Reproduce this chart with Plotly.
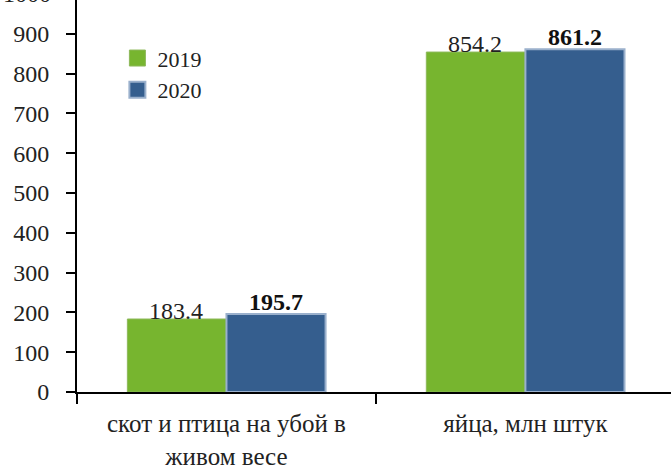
import plotly.graph_objects as go

categories = ["скот и птица на убой в<br>живом весе", "яйца, млн штук"]
series_names = ["2019", "2020"]
values_2019 = [183.4, 854.2]
values_2020 = [195.7, 861.2]
y_ticks = [0, 100, 200, 300, 400, 500, 600, 700, 800, 900]

GREEN = "#77B52F"
BLUE = "#355E8E"
FONT = "'Liberation Serif', 'Times New Roman', 'DejaVu Serif', serif"

fig = go.Figure()
fig.add_trace(go.Bar(x=categories, y=values_2019, name=series_names[0],
                     marker=dict(color=GREEN, line=dict(color="#8DB85A", width=1)),
                     showlegend=False, hoverinfo="skip"))
fig.add_trace(go.Bar(x=categories, y=values_2020, name=series_names[1],
                     marker=dict(color=BLUE, line=dict(color="#9AB0CC", width=2)),
                     showlegend=False, hoverinfo="skip"))
# legend entries
fig.add_trace(go.Scatter(x=[None], y=[None], mode="markers", name=series_names[0],
                         marker=dict(symbol="square", size=16, color=GREEN,
                                     line=dict(color="#8DB85A", width=1))))
fig.add_trace(go.Scatter(x=[None], y=[None], mode="markers", name=series_names[1],
                         marker=dict(symbol="square", size=16, color=BLUE,
                                     line=dict(color="#9AB0CC", width=2))))

annotations = []
for c, v in zip(categories, values_2019):
    annotations.append(dict(x=c, y=v, xref="x", yref="y", text=f"{v:.1f}",
                            showarrow=False, yanchor="bottom", xshift=-50, yshift=-7,
                            font=dict(family=FONT, size=24, color="#222")))
for c, v in zip(categories, values_2020):
    annotations.append(dict(x=c, y=v, xref="x", yref="y", text=f"<b>{v:.1f}</b>",
                            showarrow=False, yanchor="bottom", xshift=50, yshift=-3,
                            font=dict(family=FONT, size=24, color="#111")))
annotations.append(dict(x=0, y=1.0153, xref="paper", yref="paper", text="1000",
                        showarrow=False, xanchor="right", yanchor="middle", xshift=-24,
                        font=dict(family=FONT, size=24, color="#222")))

fig.update_layout(
    width=671, height=469,
    margin=dict(l=77, r=0, t=0, b=77),
    paper_bgcolor="white", plot_bgcolor="white",
    barmode="group", bargap=0.337, bargroupgap=0,
    font=dict(family=FONT, size=24, color="#222"),
    legend=dict(x=0.068, y=0.905, xanchor="left", yanchor="top",
                bgcolor="rgba(0,0,0,0)", font=dict(family=FONT, size=22),
                itemwidth=30, tracegroupgap=0),
    annotations=annotations,
    xaxis=dict(range=[-0.5, 1.487], showline=True, linecolor="black", linewidth=2,
               ticks="outside", tickson="boundaries", ticklen=10, tickwidth=2,
               tickcolor="black", showgrid=False, zeroline=False, ticklabelstandoff=8,
               tickfont=dict(family=FONT, size=25, color="#222")),
    yaxis=dict(range=[0, 985], tickvals=y_ticks, showline=True, linecolor="black",
               linewidth=2, ticks="outside", ticklen=9, tickwidth=2, tickcolor="black",
               showgrid=False, zeroline=False, ticklabelstandoff=12,
               tickfont=dict(family=FONT, size=24, color="#222")),
)

fig.write_html("out.html", config={"displayModeBar": False},
               post_script="document.body.style.margin='0';document.body.style.padding='0';")
